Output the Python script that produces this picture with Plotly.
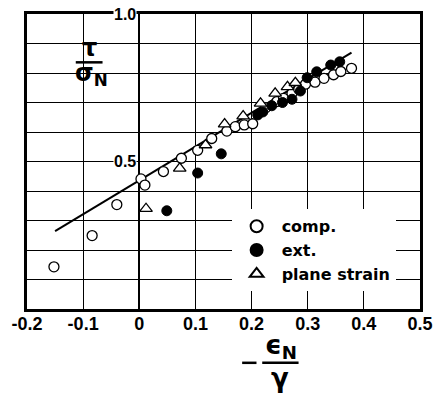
import plotly.graph_objects as go

# ---- data ----
comp_x = [-0.152, -0.084, -0.040, 0.003, 0.010, 0.043, 0.075, 0.104, 0.129, 0.156,
          0.171, 0.187, 0.202, 0.225, 0.245, 0.257, 0.272, 0.284, 0.296, 0.313,
          0.329, 0.346, 0.359, 0.378]
comp_y = [0.143, 0.249, 0.354, 0.441, 0.420, 0.466, 0.511, 0.538, 0.578, 0.603,
          0.618, 0.624, 0.628, 0.682, 0.703, 0.714, 0.731, 0.745, 0.762, 0.769,
          0.782, 0.794, 0.805, 0.816]

ext_x = [0.049, 0.104, 0.146, 0.211, 0.220, 0.236, 0.255, 0.272, 0.287, 0.299,
         0.316, 0.341, 0.357]
ext_y = [0.333, 0.461, 0.526, 0.658, 0.668, 0.689, 0.700, 0.711, 0.739, 0.784,
         0.804, 0.827, 0.838]

tri_x = [0.012, 0.072, 0.118, 0.152, 0.185, 0.216, 0.242, 0.264, 0.278]
tri_y = [0.340, 0.477, 0.556, 0.627, 0.654, 0.697, 0.731, 0.753, 0.767]

fit_x = [-0.150, 0.378]
fit_y = [0.264, 0.869]

x_tickvals = [-0.2, -0.1, 0.0, 0.1, 0.2, 0.3, 0.4, 0.5]
x_ticktext = ['-0.2', '-0.1', '0', '0.1', '0.2', '0.3', '0.4', '0.5']
y_labels = [(1.0, '1.0'), (0.5, '0.5')]

legend_names = ['comp.', 'ext.', 'plane strain']

# ---- figure ----
W, H = 444, 393
L, R, T, B = 22, 11, 13, 84

def px(x):
    return (x - L) / (W - L - R)

def py(y):
    return (H - B - y) / (H - T - B)

def bold(s):
    return '<b>' + s + '</b>'

fig = go.Figure()

fig.add_trace(go.Scatter(x=fit_x, y=fit_y, mode='lines',
                         line=dict(color='black', width=2), showlegend=False,
                         hoverinfo='skip'))
fig.add_trace(go.Scatter(x=comp_x, y=comp_y, mode='markers', name=bold(legend_names[0]),
                         marker=dict(symbol='circle', size=10, color='white',
                                     line=dict(color='black', width=1.3))))
fig.add_trace(go.Scatter(x=ext_x, y=ext_y, mode='markers', name=bold(legend_names[1]),
                         marker=dict(symbol='circle', size=10, color='black',
                                     line=dict(color='black', width=1))))
fig.add_trace(go.Scatter(x=tri_x, y=tri_y, mode='markers', name=bold(legend_names[2]),
                         marker=dict(symbol='triangle-up', size=11, color='white',
                                     line=dict(color='black', width=1.3))))

SANS = 'Liberation Sans, Arial, sans-serif'
tick_font = dict(family=SANS, size=18, color='black')

fig.update_xaxes(range=[-0.2, 0.5], tickvals=x_tickvals,
                 ticktext=[bold(t) for t in x_ticktext],
                 showgrid=True, gridcolor='black', gridwidth=1.3,
                 zeroline=True, zerolinecolor='black', zerolinewidth=2,
                 showline=True, linecolor='black', linewidth=2.5, mirror=True,
                 ticks='', tickfont=tick_font, ticklabelstandoff=-3,
                 fixedrange=True)
fig.update_yaxes(range=[0, 1.0], dtick=0.1, showticklabels=False,
                 showgrid=True, gridcolor='black', gridwidth=1.3,
                 zeroline=False,
                 showline=True, linecolor='black', linewidth=2.5, mirror=True,
                 ticks='', fixedrange=True)

annotations = []
for yv, txt in y_labels:
    annotations.append(dict(x=0, y=yv, xref='x', yref='y', text=bold(txt),
                            showarrow=False, xanchor='right', yanchor='middle',
                            xshift=-2, bgcolor='white', borderpad=0,
                            font=dict(family=SANS, size=16, color='black')))

title_font = dict(family='DejaVu Sans', size=24, color='black')
# y title: tau / sigma_N
annotations.append(dict(x=px(87), y=py(47), xref='paper', yref='paper', text=bold('τ'),
                        showarrow=False, xanchor='center', yanchor='middle',
                        font=title_font))
annotations.append(dict(x=px(89), y=py(74), xref='paper', yref='paper',
                        text=bold('σ<sub>N</sub>'), showarrow=False, xanchor='center',
                        yanchor='middle', font=title_font))
# x title: - epsilon_N / gamma
annotations.append(dict(x=px(288), y=py(347), xref='paper', yref='paper',
                        text=bold('ϵ<sub>N</sub>'), showarrow=False, xanchor='center',
                        yanchor='middle', font=dict(family='DejaVu Sans', size=26,
                                                    color='black')))
annotations.append(dict(x=px(287), y=py(378), xref='paper', yref='paper',
                        text=bold('γ'), showarrow=False, xanchor='center',
                        yanchor='middle', font=dict(family='DejaVu Sans', size=26,
                                                    color='black')))

shapes = [
    # white patch behind the y title
    dict(type='rect', xref='paper', yref='paper', x0=px(65), x1=px(110),
         y0=py(85), y1=py(35), fillcolor='white', line=dict(width=0), layer='between'),
    # fraction bar for tau/sigma
    dict(type='line', xref='paper', yref='paper', x0=px(73), x1=px(101),
         y0=py(61.5), y1=py(61.5), line=dict(color='black', width=2.5)),
    # minus sign and fraction bar for epsilon/gamma
    dict(type='line', xref='paper', yref='paper', x0=px(247), x1=px(262),
         y0=py(363), y1=py(363), line=dict(color='black', width=2.5)),
    dict(type='line', xref='paper', yref='paper', x0=px(268), x1=px(306),
         y0=py(363), y1=py(363), line=dict(color='black', width=2.5)),
]

fig.update_layout(
    width=W, height=H,
    margin=dict(l=L, r=R, t=T, b=B, pad=0),
    paper_bgcolor='white', plot_bgcolor='white',
    annotations=annotations, shapes=shapes,
    legend=dict(x=px(236), y=py(209), xanchor='left', yanchor='top',
                bgcolor='white', borderwidth=0,
                font=dict(family='DejaVu Sans', size=16, color='black'),
                itemsizing='constant', itemwidth=40, tracegroupgap=0),
    showlegend=True,
)

fig.write_html('out.html')
